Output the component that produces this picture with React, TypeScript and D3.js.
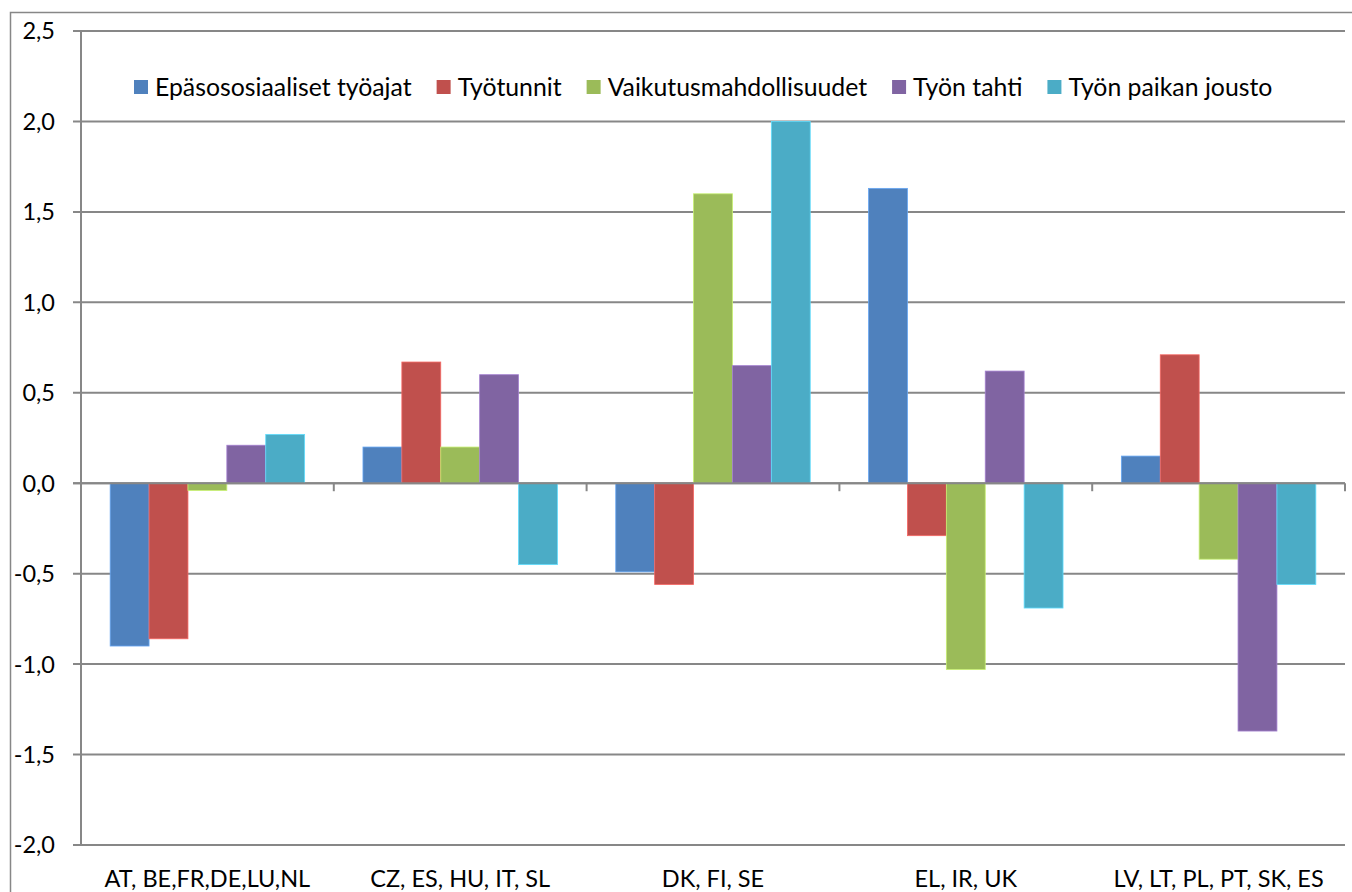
import React, { useRef, useEffect } from 'react';
import * as d3 from 'd3';

const categories = ['AT, BE,FR,DE,LU,NL', 'CZ, ES, HU, IT, SL', 'DK, FI, SE', 'EL, IR, UK', 'LV, LT, PL, PT, SK, ES'];
const seriesNames = ['Epäsososiaaliset työajat', 'Työtunnit', 'Vaikutusmahdollisuudet', 'Työn tahti', 'Työn paikan jousto'];
const colors = ['#4F81BD', '#C0504D', '#9BBB59', '#8064A2', '#4BACC6'];

const epasosiaaliset = [-0.90, 0.20, -0.49, 1.63, 0.15];
const tyotunnit = [-0.86, 0.67, -0.56, -0.29, 0.71];
const vaikutus = [-0.04, 0.20, 1.60, -1.03, -0.42];
const tahti = [0.21, 0.60, 0.65, 0.62, -1.37];
const jousto = [0.27, -0.45, 2.00, -0.69, -0.56];

const yTicks = [-2, -1.5, -1, -0.5, 0, 0.5, 1, 1.5, 2, 2.5];

const FONT = 'Lato, "Open Sans", sans-serif';

const App = () => {
  const ref = useRef(null);

  useEffect(() => {
    d3.select(ref.current).selectAll('*').remove();
    const W = 1352, H = 892;
    const left = 81, right = 1345, top = 31, bottom = 845;
    const grid = '#878787';

    const values = [epasosiaaliset, tyotunnit, vaikutus, tahti, jousto];

    const svg = d3.select(ref.current)
      .append('svg')
        .attr('width', W)
        .attr('height', H)
        .style('position', 'absolute')
        .style('left', 0)
        .style('top', 0)
        .style('font-family', FONT);

    svg.append('rect').attr('width', W).attr('height', H).attr('fill', '#fff');

    // chart border
    svg.append('path')
      .attr('d', `M10.5,${H} L10.5,12.5 L${W},12.5`)
      .attr('fill', 'none')
      .attr('stroke', grid)
      .attr('stroke-width', 1.5);

    const y = d3.scaleLinear().domain([-2, 2.5]).range([bottom, top]);
    const x0 = d3.scaleBand().domain(categories).range([left, right]).padding(0);
    const x1 = d3.scaleBand().domain(seriesNames).range([0, x0.bandwidth()])
      .paddingInner(0).paddingOuter(0.75);

    // gridlines + y labels
    const yg = svg.append('g');
    yg.selectAll('line')
      .data(yTicks)
      .join('line')
        .attr('x1', left - 8)
        .attr('x2', right)
        .attr('y1', d => y(d))
        .attr('y2', d => y(d))
        .attr('stroke', grid)
        .attr('stroke-width', 2);
    yg.selectAll('text')
      .data(yTicks)
      .join('text')
        .attr('x', 55)
        .attr('y', d => y(d))
        .attr('dy', '0.36em')
        .attr('text-anchor', 'end')
        .attr('font-size', 23.5)
        .attr('fill', '#000')
        .text(d => d3.format('.1f')(d).replace('.', ',').replace('−', '-'));

    // bars
    const groups = svg.append('g')
      .selectAll('g')
      .data(categories)
      .join('g')
        .attr('transform', d => `translate(${x0(d)},0)`);

    groups.selectAll('rect')
      .data((c, i) => seriesNames.map((s, k) => ({ s, k, v: values[k][i] })))
      .join('rect')
        .attr('x', d => x1(d.s))
        .attr('width', x1.bandwidth())
        .attr('y', d => y(Math.max(0, d.v)))
        .attr('height', d => Math.abs(y(d.v) - y(0)))
        .attr('fill', d => colors[d.k])
        .attr('stroke', d => d3.color(colors[d.k]).brighter(0.7).formatHex())
        .attr('stroke-width', 0.8);

    // y axis line
    svg.append('line')
      .attr('x1', left).attr('x2', left)
      .attr('y1', top).attr('y2', bottom)
      .attr('stroke', grid).attr('stroke-width', 2);

    // zero axis + category ticks
    svg.append('line')
      .attr('x1', left - 8).attr('x2', right)
      .attr('y1', y(0)).attr('y2', y(0))
      .attr('stroke', grid).attr('stroke-width', 2);
    const bounds = categories.map(c => x0(c)).concat([right]);
    svg.append('g').selectAll('line')
      .data(bounds)
      .join('line')
        .attr('x1', d => d).attr('x2', d => d)
        .attr('y1', y(0)).attr('y2', y(0) + 8)
        .attr('stroke', grid).attr('stroke-width', 2);

    // category labels
    svg.append('g').selectAll('text')
      .data(categories)
      .join('text')
        .attr('x', d => x0(d) + x0.bandwidth() / 2)
        .attr('y', 887)
        .attr('text-anchor', 'middle')
        .attr('font-size', 23.5)
        .attr('fill', '#000')
        .text(d => d);

    // legend
    const legend = svg.append('g');
    let lx = 134;
    seriesNames.forEach((name, k) => {
      legend.append('rect')
        .attr('x', lx).attr('y', 80)
        .attr('width', 14).attr('height', 14)
        .attr('fill', colors[k]);
      const t = legend.append('text')
        .attr('x', lx + 21)
        .attr('y', 96)
        .attr('font-size', 24.8)
        .attr('fill', '#000')
        .text(name);
      const w = t.node().getComputedTextLength();
      lx += 21 + w + 25;
    });
  }, []);

  return <div ref={ref}></div>;
};

export default App;
